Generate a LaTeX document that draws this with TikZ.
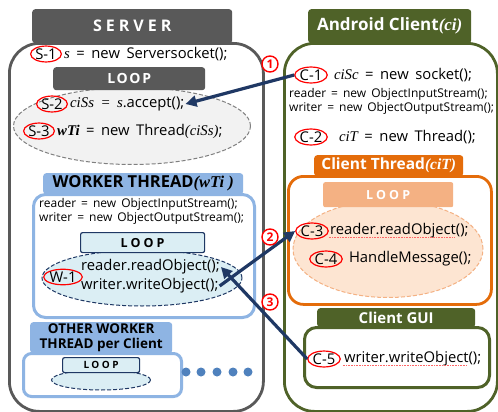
\documentclass[tikz,border=0pt]{standalone}
\usepackage{fontspec}
\setmainfont{Open Sans}
\newfontfamily\vnfont{Liberation Serif}
\newfontfamily\spaced[LetterSpace=25]{Open Sans}
\newfontfamily\spacedloop[LetterSpace=12]{Open Sans}
\usetikzlibrary{shapes.geometric,arrows.meta,positioning}
\definecolor{srvgray}{HTML}{595959}
\definecolor{olive}{HTML}{4F6228}
\definecolor{orng}{HTML}{E46C0A}
\definecolor{lorng}{HTML}{F4B183}
\definecolor{peach}{HTML}{FDE5D2}
\definecolor{wblue}{HTML}{8EB4E3}
\definecolor{lblue}{HTML}{DBEEF4}
\definecolor{navy}{HTML}{1F3864}
\definecolor{dotblue}{HTML}{4F81BD}
\definecolor{lgray}{HTML}{F2F2F2}
\newcommand\vn[1]{{\vnfont\itshape #1}}
\newcommand\vb[1]{{\vnfont\bfseries\itshape #1}}
\newcommand\codefont{\fontsize{14.8}{17}\selectfont\spaceskip=6.5pt plus 1pt\relax}
\newcommand\smallfont{\fontsize{12}{14}\selectfont\spaceskip=5pt plus 1pt\relax}

\begin{document}
\begin{tikzpicture}[x=1pt,y=-1pt,
    box/.style={draw, line width=2.8pt, fill=white, anchor=north west, inner sep=0pt},
    tab/.style={rounded corners=3pt, anchor=north west, inner sep=0pt, text=white, font=\bfseries\fontsize{15}{17}\selectfont},
    loopell/.style={ellipse, dash pattern=on 4pt off 2pt, line width=1pt, inner sep=0pt},
    tag/.style={ellipse, draw=red, line width=1.2pt, inner sep=0.2pt, font=\fontsize{14.8}{17}\selectfont},
    code/.style={anchor=west, inner sep=1pt, font=\codefont},
    small/.style={anchor=north west, inner sep=0pt, align=left, font=\smallfont},
    num/.style={circle, draw=red, fill=white, text=red, line width=1.4pt, inner sep=0pt, minimum size=16pt, font=\bfseries\fontsize{12}{12}\selectfont},
    flow/.style={draw=navy, line width=3.2pt, -{Triangle[length=11pt,width=11pt]}},
    squig/.style={draw=red!60, densely dotted, line width=0.6pt},
    dot/.style={circle, fill=dotblue, inner sep=0pt, minimum size=9pt}]
  \useasboundingbox (0,0) rectangle (498,412);

  % Serveur
  \node[box, draw=srvgray, rounded corners=30pt, minimum width=254pt, minimum height=368pt] (server) at (8,42) {};
  \node[tab, fill=srvgray, minimum width=200pt, minimum height=34pt, font=\bfseries\fontsize{16}{18}\selectfont] (srvhead) at (32,9) {\spaced SERVER};
  \node[tag] (s1) at (46,54) {S-1};
  \node[code, right=1pt of s1] (s1txt) {\vn{s} = new Serversocket();};
  \node[loopell, draw=gray, fill=lgray, minimum width=237pt, minimum height=77pt] (srvloop) at (132,126) {};
  \node[tab, fill=srvgray, minimum width=152pt, minimum height=23pt, font=\bfseries\fontsize{14}{16}\selectfont] (srvloophead) at (53,67) {\spacedloop LOOP};
  \node[tag] (s2) at (52,104) {S-2};
  \node[code, right=1pt of s2] (s2txt) {\vn{ciSs = s}.accept();};
  \node[tag] (s3) at (39,131) {S-3};
  \node[code, right=1pt of s3] (s3txt) {\vb{wTi} = new Thread\vn{(ciSs)};};

  % Worker thread
  \node[box, draw=wblue, line width=3pt, rounded corners=12pt, minimum width=221pt, minimum height=123pt] (worker) at (32,193) {};
  \node[tab, fill=wblue, text=black, minimum width=200pt, minimum height=21pt, font=\bfseries\fontsize{16.5}{18}\selectfont] (workhead) at (43,173) {WORKER THREAD\vb{(wTi )}};
  \node[small] (workio) at (39,198) {reader = new ObjectInputStream();\\writer = new ObjectOutputStream();};
  \node[loopell, draw=navy, fill=lblue, minimum width=200pt, minimum height=56pt] (workloop) at (142,278) {};
  \node[tab, fill=lblue, draw=navy, line width=1.2pt, text=black, rounded corners=2pt, minimum width=124pt, minimum height=20pt, font=\bfseries\fontsize{12.5}{14}\selectfont] (workloophead) at (80,232) {\spaced LOOP};
  \node[tag] (w1) at (63,277) {W-1};
  \node[code] (w1a) at (80,267) {reader.readObject();};
  \node[code] (w1b) at (80,286) {writer.writeObject();};

  % Autres workers
  \node[box, draw=wblue, line width=3pt, rounded corners=8pt, minimum width=158pt, minimum height=43pt] (other) at (22,352) {};
  \node[tab, fill=wblue, text=black, align=center, minimum width=142pt, minimum height=31pt, font=\bfseries\fontsize{13.5}{15}\selectfont] (otherhead) at (30,322) {OTHER WORKER\\THREAD per Client};
  \node[loopell, draw=navy, fill=lblue, minimum width=99pt, minimum height=20pt] (otherloop) at (101,380) {};
  \node[tab, fill=lblue, draw=navy, line width=1.2pt, text=black, rounded corners=2pt, minimum width=77pt, minimum height=15pt, font=\bfseries\fontsize{10}{12}\selectfont] (otherloophead) at (62,357) {\spaced LOOP};
  \foreach \i/\x in {1/186,2/201,3/217,4/233,5/248}
    \node[dot] (dot\i) at (\x,372) {};

  % Client
  \node[box, draw=olive, rounded corners=30pt, minimum width=213pt, minimum height=368pt] (client) at (283,42) {};
  \node[tab, fill=olive, minimum width=163pt, minimum height=34pt, font=\bfseries\fontsize{17}{19}\selectfont] (clihead) at (308,9) {Android Client\vb{(ci)}};
  \node[tag] (c1) at (311,75) {C-1};
  \node[code, right=5pt of c1] (c1txt) {\vn{ciSc} = new socket();};
  \node[small] (cliio) at (289,88) {reader = new ObjectInputStream();\\writer = new ObjectOutputStream();};
  \node[tag] (c2) at (311,137) {C-2};
  \node[code, right=10pt of c2] (c2txt) {\vn{ciT} = new Thread();};

  % Client thread
  \node[box, draw=orng, rounded corners=15pt, minimum width=203pt, minimum height=128pt] (clithread) at (287,175) {};
  \node[tab, fill=orng, minimum width=149pt, minimum height=21pt, font=\bfseries\fontsize{15.5}{17}\selectfont] (thrhead) at (314,155) {Client Thread\vb{(ciT)}};
  \node[loopell, draw=lorng, fill=peach, minimum width=190pt, minimum height=97pt] (cliloop) at (388,249) {};
  \node[tab, fill=lorng, rounded corners=2pt, minimum width=130pt, minimum height=25pt, font=\bfseries\fontsize{12.5}{14}\selectfont] (cliloophead) at (323,182) {\spaced LOOP};
  \node[tag] (c3) at (312,231) {C-3};
  \node[code, right=0pt of c3] (c3txt) {reader.readObject();};
  \node[tag] (c4) at (326,259) {C-4};
  \node[code, right=5pt of c4] (c4txt) {HandleMessage();};
  \draw[squig] ([yshift=-2.5pt]c3txt.base west) -- ([yshift=-2.5pt,xshift=-16pt]c3txt.base east);

  % Client GUI
  \node[box, draw=olive, line width=3pt, rounded corners=12pt, minimum width=185pt, minimum height=60pt] (gui) at (303,326) {};
  \node[tab, fill=olive, minimum width=158pt, minimum height=19pt, font=\bfseries\fontsize{15}{17}\selectfont] (guihead) at (317,308) {Client GUI};
  \node[tag] (c5) at (324,359) {C-5};
  \node[code, right=2pt of c5] (c5txt) {writer.writeObject();};
  \draw[squig] ([yshift=-2.5pt]c5txt.base west) -- ([yshift=-2.5pt,xshift=-16pt]c5txt.base east);

  % Echanges
  \draw[flow] (c1.west) -- (s2txt.east);
  \draw[flow] (w1b.east) -- (c3.west);
  \draw[flow] (c5.west) -- (w1a.east);
  \node[num] (n1) at (270,64) {1};
  \node[num] (n2) at (270,237) {2};
  \node[num] (n3) at (270,302) {3};
\end{tikzpicture}
\end{document}
